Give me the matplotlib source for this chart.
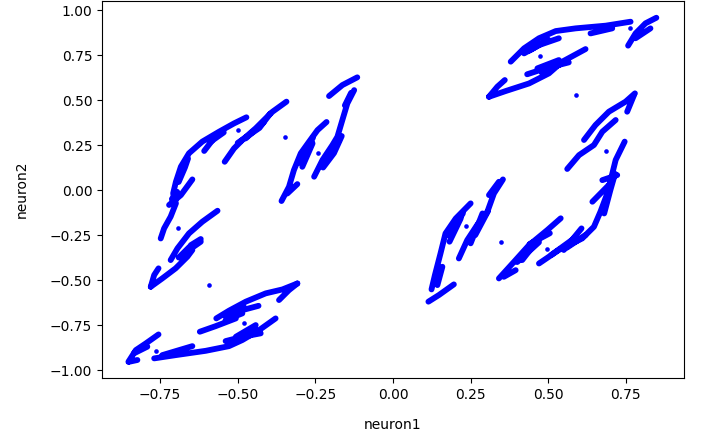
import numpy as np
import matplotlib.pyplot as plt

nan = np.nan

# activations, nan separates traced runs of points
ul_x = [-.748, -.737, -.716, -.699, -.708, -.699, -.683, -.657, -.614, -.560, -.512, -.472, nan,
        -.608, -.581, nan, -.721, -.683, -.646, nan, -.542, -.512, -.485, -.442, -.410, -.388, -.343, nan,
        -.474, -.415, nan, -.500, -.430, -.395, nan, -.690, -.670, -.660, nan, -.590, -.545, nan,
        -.712, -.695]
ul_y = [-.269, -.213, -.148, -.074, -.019, .046, .130, .204, .269, .324, .370, .404, nan,
        .217, .278, nan, -.083, -.028, .059, nan, .157, .231, .278, .343, .398, .435, .491, nan,
        .287, .380, nan, .262, .345, .425, nan, .045, .125, .175, nan, .265, .320, nan,
        -.050, -.010]

um_x = [-.359, -.335, -.319, -.297, -.270, -.243, -.214, nan, -.340, -.308, nan, -.292, -.259, nan,
        -.254, -.227, -.195, -.179, -.163, -.147, -.125, nan, -.206, -.163, -.115, nan, -.211, -.174, nan,
        -.305, -.280, -.258, nan, -.225, -.190, -.165, nan, -.155, -.135]
um_y = [-.061, .018, .111, .204, .269, .333, .378, nan, -.019, .033, nan, .129, .259, nan,
        .074, .167, .250, .296, .389, .481, .555, nan, .522, .583, .626, nan, .167, .278, nan,
        .150, .215, .290, nan, .125, .205, .300, nan, .470, .540]

ml_x = [-.780, -.769, -.755, nan, -.780, -.743, -.700, -.662, -.646, nan,
        -.716, -.694, -.657, -.614, -.565, nan, -.651, -.619, nan, -.657, -.619, nan, -.690, -.655]
ml_y = [-.537, -.472, -.435, nan, -.537, -.491, -.435, -.370, -.333, nan,
        -.389, -.324, -.241, -.176, -.115, nan, -.306, -.272, nan, -.333, -.287, nan, -.375, -.315]

ll_x = [-.622, -.571, -.506, nan, -.569, -.528, -.474, -.410, -.356, -.308, nan, -.367, -.335, -.308, nan,
        -.544, -.485, -.433, nan, -.539, -.485, nan, -.769, -.700, -.603, -.528, -.485, -.431, -.378, nan,
        -.539, -.485, -.426, nan, -.506, -.442, nan, -.743, -.646, nan,
        -.852, -.828, -.796, -.755, nan, -.850, -.823, nan, -.834, -.791, nan, -.530, -.480, nan, -.510, -.445]
ll_y = [-.787, -.756, -.713, nan, -.713, -.670, -.620, -.574, -.552, -.519, nan, -.611, -.556, -.519, nan,
        -.694, -.667, -.643, nan, -.722, -.685, nan, -.935, -.917, -.893, -.867, -.833, -.778, -.713, nan,
        -.839, -.815, -.796, nan, -.815, -.750, nan, -.917, -.867, nan,
        -.954, -.889, -.852, -.802, nan, -.954, -.944, nan, -.907, -.870, nan, -.690, -.650, nan, -.835, -.770]

ur_x = [.379, .422, .470, .524, .588, .685, .765, nan, .422, .470, .534, nan, .636, .706, nan,
        .757, .781, .813, .848, nan, .781, .829, nan, .309, .363, .438, .502, .545, .620, nan,
        .309, .336, .360, nan, .432, .491, .566, nan, .465, .534, nan, .440, .500, nan, .480, .540]
ur_y = [.713, .787, .843, .883, .898, .913, .935, nan, .759, .805, .843, nan, .870, .898, nan,
        .802, .870, .926, .957, nan, .843, .898, nan, .518, .550, .592, .648, .713, .783, nan,
        .518, .574, .611, nan, .643, .676, .709, nan, .676, .722, nan, .775, .835, nan, .650, .700]

mr_x = [.561, .599, .647, .674, .717, nan, .615, .652, .695, .749, .779, nan, .754, .776, nan,
        .470, .534, .609, .647, .668, .690, .701, .717, .746, nan, .550, .607, nan, .642, .695, nan,
        .674, .722, nan, .680, .700, .715, nan, .510, .590, nan, .560, .620]
mr_y = [.117, .194, .250, .324, .389, nan, .278, .361, .435, .491, .537, nan, .435, .527, nan,
        -.408, -.333, -.269, -.204, -.120, -.019, .056, .167, .269, nan, -.333, -.213, nan, -.065, .028, nan,
        .055, .083, nan, -.130, .000, .090, nan, -.360, -.260, nan, -.320, -.250]

lm_x = [.114, .148, .196, nan, .124, .135, .153, .169, .202, .250, nan, .143, .159, nan, .182, .218, nan,
        .212, .239, .271, .304, .325, .354, nan, .250, .288, nan, .309, .341, nan,
        .341, .390, .438, .497, .540, nan, .357, .395, nan, .416, .470, nan, .180, .225, nan,
        .265, .305, nan, .400, .470, nan, .440, .505]
lm_y = [-.620, -.583, -.524, nan, -.552, -.472, -.352, -.241, -.158, -.074, nan, -.528, -.426, nan, -.287, -.158, nan,
        -.380, -.278, -.194, -.120, -.019, .059, nan, -.296, -.130, nan, -.028, .046, nan,
        -.491, -.398, -.306, -.222, -.157, nan, -.482, -.445, nan, -.389, -.269, nan, -.250, -.130, nan,
        -.250, -.120, nan, -.400, -.290, nan, -.300, -.240]

stray_x = [-.498, -.349, -.240, -.691, -.762, -.594, -.479, .762, .474, .590, .687, .236, .349, .497]
stray_y = [.331, .292, .204, -.213, -.896, -.530, -.741, .898, .743, .526, .215, -.202, -.291, -.330]

fig, ax = plt.subplots(figsize=(7.06, 4.46), dpi=100)
for xs, ys in [(ul_x, ul_y), (um_x, um_y), (ml_x, ml_y), (ll_x, ll_y),
               (ur_x, ur_y), (mr_x, mr_y), (lm_x, lm_y)]:
    ax.plot(xs, ys, color='b', lw=4.2, solid_capstyle='round', solid_joinstyle='round')
ax.scatter(stray_x, stray_y, color='b', s=11, linewidths=0)

ax.set_xlim(-0.937, 0.937)
ax.set_ylim(-1.044, 1.05)
ax.set_xlabel("neuron1", labelpad=12)
ax.set_ylabel("neuron2", labelpad=15)
fig.subplots_adjust(left=102 / 706, right=684 / 706, top=1 - 1 / 446, bottom=1 - 378 / 446)
fig.savefig("out.png", dpi=100)
